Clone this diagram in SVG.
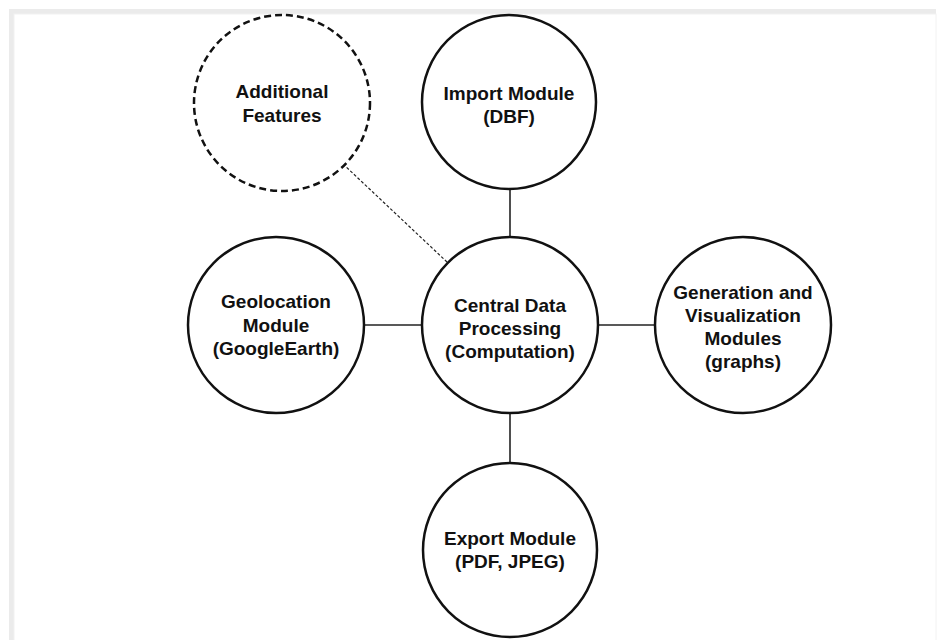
<svg xmlns="http://www.w3.org/2000/svg" width="937" height="640" viewBox="0 0 937 640">
<style>
.node{fill:#fff;stroke:#111;stroke-width:2.5}
.dashed{stroke-dasharray:7 4}
.lbl{font-family:"Liberation Sans",Arial,sans-serif;font-weight:bold;font-size:19px;fill:#111;text-anchor:middle}
.conn{stroke:#222;stroke-width:1.6;fill:none}
.dot{stroke:#222;stroke-width:1.2;stroke-dasharray:3 2;fill:none}
</style>
<rect x="0" y="0" width="937" height="640" fill="#fff"/>
<rect x="9" y="9" width="927" height="640" fill="#ebebeb"/>
<rect x="14" y="14" width="922" height="640" fill="#fff" stroke="#f2f2f2" stroke-width="1"/>
<g id="connectors">
<line class="conn" x1="510" y1="190" x2="510" y2="237"/>
<line class="conn" x1="365" y1="325" x2="422" y2="325"/>
<line class="conn" x1="598" y1="325" x2="655" y2="325"/>
<line class="conn" x1="510" y1="413" x2="510" y2="463"/>
<line class="dot" x1="343" y1="164" x2="447" y2="262"/>
</g>
<g id="additional">
<circle class="node dashed" cx="282" cy="103" r="88"/>
<text class="lbl" x="282" y="98">Additional</text>
<text class="lbl" x="282" y="122">Features</text>
</g>
<g id="import">
<circle class="node" cx="509" cy="102" r="87"/>
<text class="lbl" x="509" y="100">Import Module</text>
<text class="lbl" x="509" y="123">(DBF)</text>
</g>
<g id="central">
<circle class="node" cx="510" cy="325" r="88"/>
<text class="lbl" x="510" y="312">Central Data</text>
<text class="lbl" x="510" y="335">Processing</text>
<text class="lbl" x="510" y="358">(Computation)</text>
</g>
<g id="geolocation">
<circle class="node" cx="276" cy="325" r="88"/>
<text class="lbl" x="276" y="308">Geolocation</text>
<text class="lbl" x="276" y="332">Module</text>
<text class="lbl" x="276" y="355">(GoogleEarth)</text>
</g>
<g id="generation">
<circle class="node" cx="743" cy="325" r="88"/>
<text class="lbl" x="743" y="299">Generation and</text>
<text class="lbl" x="743" y="322">Visualization</text>
<text class="lbl" x="743" y="345">Modules</text>
<text class="lbl" x="743" y="368">(graphs)</text>
</g>
<g id="export">
<circle class="node" cx="510" cy="550" r="87"/>
<text class="lbl" x="510" y="545">Export Module</text>
<text class="lbl" x="510" y="568">(PDF, JPEG)</text>
</g>
</svg>
